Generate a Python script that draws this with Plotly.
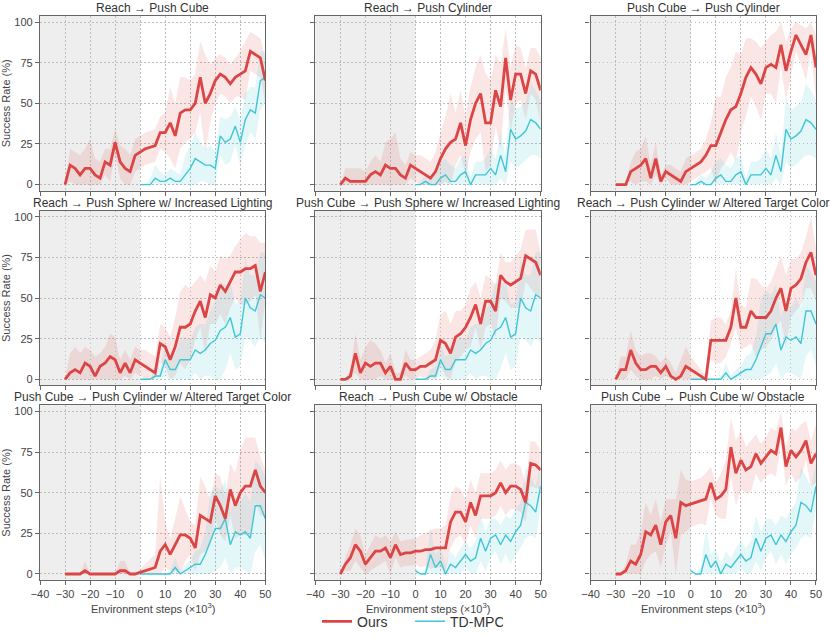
import plotly.graph_objects as go
from plotly.subplots import make_subplots

# evaluation steps (x10^3)
steps_ours = [-30, -28, -26, -24, -22, -20, -18, -16, -14, -12, -10, -8, -6, -4, -2,
              0, 2, 4, 6, 8, 10, 12, 14, 16, 18, 20, 22, 24, 26, 28, 30, 32, 34, 36, 38,
              40, 42, 44, 46, 48, 50]
steps_tdmpc = [0, 2, 4, 6, 8, 10, 12, 14, 16, 18, 20, 22, 24, 26, 28, 30, 32, 34, 36, 38,
               40, 42, 44, 46, 48, 50]

titles = [
    'Reach → Push Cube', 'Reach → Push Cylinder', 'Push Cube → Push Cylinder',
    'Reach → Push Sphere w/ Increased Lighting', 'Push Cube → Push Sphere w/ Increased Lighting',
    'Reach → Push Cylinder w/ Altered Target Color',
    'Push Cube → Push Cylinder w/ Altered Target Color', 'Reach → Push Cube w/ Obstacle',
    'Push Cube → Push Cube w/ Obstacle',
]

# Ours: mean success rate and spread, one pair per panel
ours_1 = [0, 12, 10, 6, 10, 10, 6, 4, 14, 12, 26, 14, 10, 8, 18,
          20, 22, 23, 24, 32, 32, 38, 30, 44, 46, 46, 50, 66, 50, 56, 64, 68, 66, 62, 66, 68, 70, 82, 80, 78, 64]
ours_1_sd = [0, 10, 10, 12, 12, 18, 10, 10, 8, 10, 8, 10, 12, 10, 10,
             10, 10, 10, 10, 10, 12, 22, 20, 22, 20, 18, 18, 22, 30, 18, 14, 12, 12, 12, 12, 14, 18, 12, 12, 12, 14]
ours_2 = [0, 4, 2, 2, 2, 2, 6, 8, 6, 12, 10, 10, 6, 4, 12,
          10, 8, 6, 4, 8, 16, 22, 26, 28, 38, 24, 40, 50, 56, 38, 38, 58, 48, 78, 52, 68, 68, 56, 70, 68, 58]
ours_2_sd = [0, 6, 8, 8, 8, 6, 8, 10, 8, 14, 18, 22, 10, 8, 8,
             8, 10, 10, 10, 12, 16, 20, 30, 16, 20, 18, 20, 22, 24, 30, 26, 22, 26, 18, 20, 18, 16, 16, 14, 16, 20]
ours_3 = [0, 0, 0, 8, 10, 12, 16, 4, 16, 2, 8, 6, 4, 2, 8,
          10, 12, 14, 18, 24, 24, 32, 40, 46, 48, 56, 66, 72, 68, 62, 72, 74, 72, 86, 70, 82, 92, 86, 80, 92, 72]
ours_3_sd = [0, 0, 0, 6, 10, 10, 14, 8, 10, 4, 4, 6, 6, 6, 8,
             8, 8, 8, 10, 14, 30, 22, 26, 26, 34, 24, 24, 18, 20, 22, 16, 18, 22, 14, 18, 14, 10, 12, 16, 10, 20]
ours_4 = [0, 4, 6, 4, 10, 8, 2, 8, 10, 14, 12, 4, 10, 4, 12,
          10, 8, 6, 4, 22, 20, 12, 20, 32, 32, 34, 42, 48, 38, 52, 50, 58, 54, 60, 66, 66, 68, 68, 70, 54, 66]
ours_4_sd = [0, 12, 14, 12, 10, 10, 12, 8, 10, 14, 14, 8, 8, 8, 8,
             8, 10, 10, 10, 12, 12, 14, 18, 22, 26, 22, 18, 16, 22, 18, 16, 18, 20, 16, 16, 20, 22, 20, 18, 30, 18]
ours_5 = [0, 0, 2, 16, 4, 10, 8, 10, 10, 4, 8, 0, 0, 10, 6,
          6, 8, 8, 10, 12, 24, 22, 16, 26, 28, 32, 38, 46, 34, 48, 48, 42, 64, 60, 58, 60, 62, 76, 74, 72, 64]
ours_5_sd = [0, 0, 4, 12, 8, 10, 16, 12, 8, 6, 8, 4, 4, 8, 6,
             6, 6, 8, 8, 12, 16, 20, 18, 16, 14, 14, 18, 14, 16, 16, 14, 16, 14, 12, 14, 16, 18, 16, 18, 20, 14]
ours_6 = [0, 6, 6, 18, 10, 6, 6, 8, 8, 4, 8, 2, 0, 2, 8,
          6, 4, 2, 0, 24, 24, 24, 24, 32, 50, 32, 32, 42, 38, 38, 38, 42, 50, 56, 42, 56, 58, 62, 72, 78, 64]
ours_6_sd = [0, 8, 8, 12, 8, 8, 10, 8, 6, 6, 6, 8, 4, 10, 12,
             8, 6, 4, 2, 12, 14, 14, 10, 10, 18, 14, 12, 20, 24, 20, 18, 18, 18, 20, 22, 18, 16, 16, 16, 22, 16]
ours_7 = [0, 0, 0, 0, 2, 0, 0, 0, 0, 0, 0, 2, 2, 0, 0,
          1, 2, 3, 4, 14, 18, 12, 18, 24, 24, 22, 16, 36, 34, 32, 48, 42, 34, 52, 42, 50, 54, 54, 64, 54, 50]
ours_7_sd = [0, 0, 0, 0, 6, 0, 0, 0, 0, 0, 0, 6, 6, 0, 0,
             2, 4, 6, 8, 46, 14, 10, 16, 24, 16, 10, 14, 24, 20, 14, 14, 18, 14, 16, 20, 26, 30, 30, 20, 18, 14]
ours_8 = [0, 6, 10, 18, 14, 6, 10, 14, 14, 16, 10, 18, 12, 13, 13,
          14, 14, 15, 15, 16, 16, 16, 32, 38, 38, 32, 44, 36, 48, 48, 48, 50, 56, 50, 54, 54, 52, 44, 68, 67, 64]
ours_8_sd = [0, 4, 8, 10, 10, 6, 8, 10, 8, 8, 10, 8, 8, 8, 8,
             8, 10, 10, 12, 12, 12, 14, 16, 16, 14, 14, 14, 14, 14, 14, 14, 14, 14, 14, 14, 14, 14, 12, 14, 14, 12]
ours_9 = [0, 0, 2, 8, 6, 12, 26, 24, 30, 18, 32, 36, 22, 44, 42,
          43, 44, 45, 46, 56, 46, 48, 52, 78, 62, 70, 64, 66, 74, 68, 72, 76, 74, 90, 66, 76, 72, 76, 82, 68, 74]
ours_9_sd = [0, 0, 4, 10, 12, 14, 18, 12, 16, 14, 14, 10, 24, 20, 16,
             14, 14, 14, 16, 10, 10, 14, 18, 18, 20, 18, 14, 16, 12, 12, 12, 14, 14, 10, 12, 14, 16, 16, 12, 14, 18]

# TD-MPC: trained from scratch on each target task
tdmpc_push_cube = [0, 0, 0, 4, 2, 2, 4, 2, 2, 6, 10, 16, 14, 12, 12, 10, 30, 26, 28, 36, 26, 40, 46, 44, 64, 66]
tdmpc_push_cube_sd = [0, 0, 4, 8, 6, 4, 6, 6, 4, 12, 14, 16, 12, 10, 12, 10, 12, 14, 14, 12, 14, 16, 14, 16, 18, 16]
tdmpc_push_cyl = [0, 0, 2, 0, 0, 4, 6, 2, 2, 6, 8, 0, 6, 6, 6, 10, 6, 18, 8, 34, 28, 30, 33, 40, 38, 34]
tdmpc_push_cyl_sd = [0, 2, 4, 4, 8, 10, 10, 10, 8, 10, 10, 4, 8, 8, 10, 12, 10, 14, 10, 20, 18, 18, 18, 22, 20, 18]
tdmpc_sphere = [0, 0, 0, 2, 2, 12, 6, 6, 12, 12, 12, 18, 16, 18, 22, 24, 30, 32, 38, 26, 28, 50, 44, 42, 52, 50]
tdmpc_sphere_sd = [0, 0, 0, 4, 6, 10, 8, 10, 12, 14, 12, 14, 18, 16, 20, 24, 30, 26, 22, 20, 20, 24, 20, 22, 26, 28]
tdmpc_cyl_color = [0, 0, 0, 0, 0, 0, 0, 4, 0, 2, 4, 6, 6, 12, 20, 28, 28, 34, 18, 26, 24, 26, 22, 42, 42, 34]
tdmpc_cyl_color_sd = [0, 0, 0, 0, 0, 0, 2, 6, 2, 4, 4, 8, 10, 14, 30, 26, 24, 24, 20, 22, 20, 24, 22, 28, 24, 26]
tdmpc_obstacle = [2, 0, 0, 12, 4, 8, 0, 6, 4, 8, 12, 8, 10, 22, 14, 22, 24, 18, 24, 20, 26, 30, 44, 42, 38, 54]
tdmpc_obstacle_sd = [2, 0, 4, 16, 8, 8, 6, 8, 6, 8, 8, 8, 10, 14, 12, 12, 10, 12, 12, 14, 14, 14, 22, 18, 16, 14]

panels = [
    (ours_1, ours_1_sd, tdmpc_push_cube, tdmpc_push_cube_sd),
    (ours_2, ours_2_sd, tdmpc_push_cyl, tdmpc_push_cyl_sd),
    (ours_3, ours_3_sd, tdmpc_push_cyl, tdmpc_push_cyl_sd),
    (ours_4, ours_4_sd, tdmpc_sphere, tdmpc_sphere_sd),
    (ours_5, ours_5_sd, tdmpc_sphere, tdmpc_sphere_sd),
    (ours_6, ours_6_sd, tdmpc_cyl_color, tdmpc_cyl_color_sd),
    (ours_7, ours_7_sd, tdmpc_cyl_color, tdmpc_cyl_color_sd),
    (ours_8, ours_8_sd, tdmpc_obstacle, tdmpc_obstacle_sd),
    (ours_9, ours_9_sd, tdmpc_obstacle, tdmpc_obstacle_sd),
]

RED = '#dc4545'
CYAN = '#3fc6d6'
RED_BAND = 'rgba(225, 90, 90, 0.15)'
CYAN_BAND = 'rgba(60, 200, 215, 0.14)'
AXIS = '#666666'
FONT = 'Liberation Sans, Arial, sans-serif'


def band(x, mean, sd):
    upper = [min(100, m + s) for m, s in zip(mean, sd)]
    lower = [max(0, m - s) for m, s in zip(mean, sd)]
    return x + x[::-1], upper + lower[::-1]


fig = make_subplots(rows=3, cols=3, subplot_titles=titles,
                    horizontal_spacing=0.0644, vertical_spacing=0.0355)

for ann in fig.layout.annotations:
    ann.font = dict(size=12, color='#333', family=FONT)
    ann.yshift = -1

for i, (ours, ours_sd, td, td_sd) in enumerate(panels):
    r, c = i // 3 + 1, i % 3 + 1
    bx, by = band(steps_ours, ours, ours_sd)
    fig.add_trace(go.Scatter(x=bx, y=by, fill='toself', fillcolor=RED_BAND,
                             line=dict(width=0), hoverinfo='skip', showlegend=False), row=r, col=c)
    bx, by = band(steps_tdmpc, td, td_sd)
    fig.add_trace(go.Scatter(x=bx, y=by, fill='toself', fillcolor=CYAN_BAND,
                             line=dict(width=0), hoverinfo='skip', showlegend=False), row=r, col=c)
    fig.add_trace(go.Scatter(x=steps_tdmpc, y=td, mode='lines', name='TD-MPC',
                             line=dict(color=CYAN, width=1.4), showlegend=(i == 0),
                             legendrank=2), row=r, col=c)
    fig.add_trace(go.Scatter(x=steps_ours, y=ours, mode='lines', name='Ours',
                             line=dict(color=RED, width=2.8), showlegend=(i == 0),
                             legendrank=1), row=r, col=c)

    # pre-training region shading
    axn = '' if i == 0 else str(i + 1)
    fig.add_shape(type='rect', xref='x' + axn, yref='y' + axn + ' domain',
                  x0=-40, x1=0, y0=0, y1=1, fillcolor='#eeeeee',
                  line=dict(width=0), layer='below')

    fig.update_xaxes(range=[-40, 50], tickvals=[-40, -30, -20, -10, 0, 10, 20, 30, 40, 50],
                     showticklabels=(r == 3), row=r, col=c)
    fig.update_yaxes(range=[-3.7, 103.7], tickvals=[0, 25, 50, 75, 100],
                     showticklabels=(c == 1), row=r, col=c)
    if r == 3:
        # x-axis label placed as an annotation so it sits at a fixed distance below the axis
        fig.add_annotation(text='Environment steps (×10<sup>3</sup>)', showarrow=False,
                           xref='x' + axn + ' domain', x=0.5, yref='paper', y=-0.049,
                           yanchor='middle', font=dict(size=11, color='#444', family=FONT))
    if c == 1:
        fig.update_yaxes(title=dict(text='Success Rate (%)', standoff=4,
                                    font=dict(size=11, color='#444')), row=r, col=c)

fig.update_xaxes(showline=True, mirror=True, linecolor=AXIS, linewidth=1.3,
                 ticks='outside', ticklen=4, tickcolor=AXIS, zeroline=False,
                 showgrid=True, gridcolor='#bcbcbc', griddash='1.5px,2.5px', gridwidth=1.2,
                 tickfont=dict(size=11, color='#444'), automargin=False)
fig.update_yaxes(showline=True, mirror=True, linecolor=AXIS, linewidth=1.3,
                 ticks='outside', ticklen=4, tickcolor=AXIS, zeroline=False,
                 showgrid=True, gridcolor='#bcbcbc', griddash='1.5px,2.5px', gridwidth=1.2,
                 tickfont=dict(size=11, color='#444'), automargin=False)

fig.update_layout(
    width=830, height=637,
    margin=dict(l=40, r=14, t=16, b=57),
    paper_bgcolor='white', plot_bgcolor='white',
    font=dict(family=FONT, color='#444'),
    legend=dict(orientation='h', xref='container', yref='container',
                x=0.382, xanchor='left', y=0.024, yanchor='middle',
                font=dict(size=14, color='#333'), itemwidth=30, entrywidth=48,
                traceorder='normal'),
)

# drop the default page margin so the figure sits at the window's top-left corner
fig.write_html('out.html', config={'displayModeBar': False},
               post_script="document.body.style.margin = '0';")
